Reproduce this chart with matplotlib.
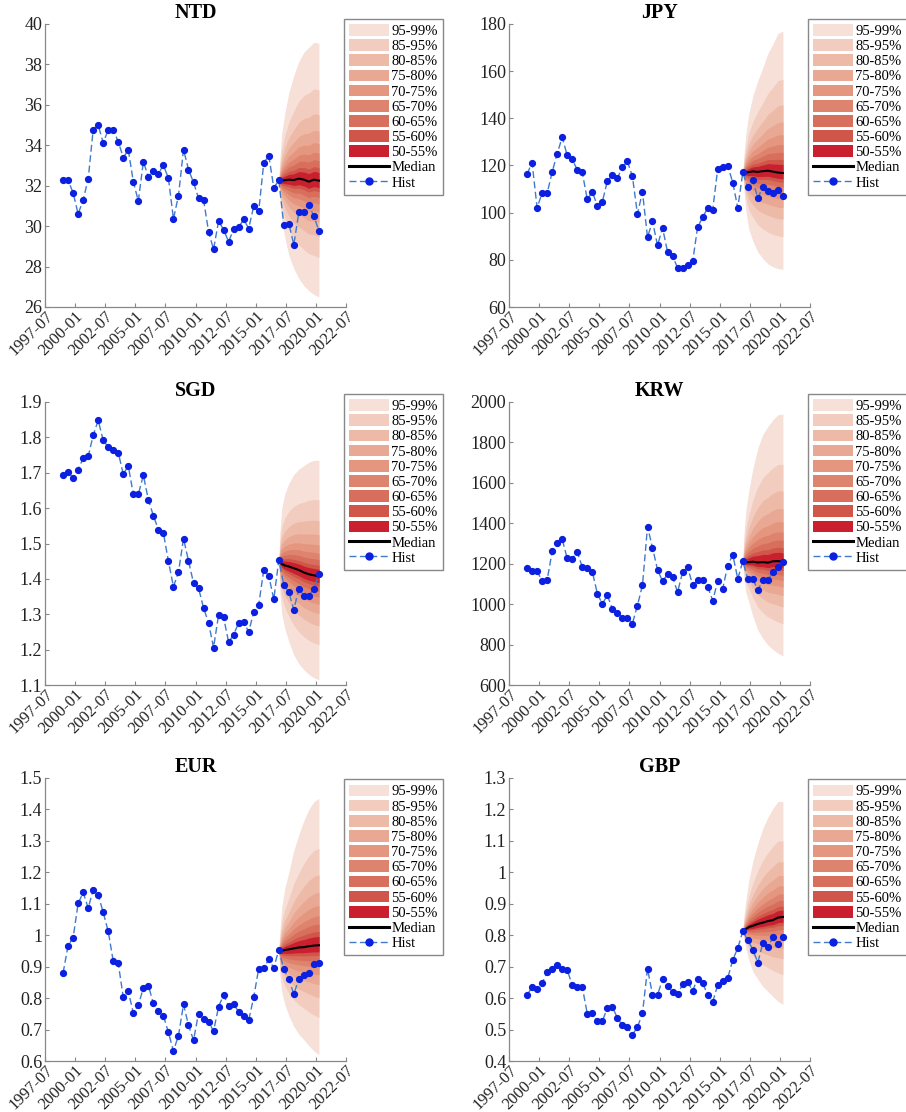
import numpy as np
import pandas as pd
import matplotlib
matplotlib.use('Agg')
import matplotlib.pyplot as plt
import matplotlib.dates as mdates
from matplotlib.patches import Patch
from matplotlib.lines import Line2D
from matplotlib.ticker import FormatStrFormatter, MultipleLocator

plt.rcParams['font.family'] = ['Liberation Serif', 'DejaVu Serif']

# observed rates, one point every 5 months from 1999-01 to 2020-04
hist_dates = pd.date_range('1999-01-01', periods=52, freq='5MS')

ntd_hist = [32.27, 32.27, 31.65, 30.60, 31.30, 32.34, 34.76, 34.99, 34.13, 34.76,
            34.76, 34.18, 33.39, 33.77, 32.19, 31.24, 33.18, 32.44, 32.75, 32.59,
            33.02, 32.37, 30.36, 31.50, 33.79, 32.80, 32.16, 31.38, 31.30, 29.72,
            28.85, 30.26, 29.82, 29.23, 29.85, 29.95, 30.33, 29.88, 30.99, 30.74,
            33.13, 33.49, 31.90, 32.26, 30.07, 30.13, 29.08, 30.69, 30.69, 31.05,
            30.48, 29.77]
jpy_hist = [116.4, 121.2, 102.0, 108.5, 108.3, 117.3, 125.0, 132.0, 124.3, 122.6,
            118.2, 117.1, 105.6, 108.8, 103.0, 104.6, 113.4, 116.0, 114.7, 119.2,
            121.8, 115.4, 99.4, 108.8, 89.6, 96.3, 86.1, 93.6, 83.3, 81.6,
            76.6, 76.6, 77.9, 79.3, 93.9, 98.0, 102.0, 101.1, 118.7, 119.5,
            119.9, 112.7, 102.0, 117.1, 110.7, 113.7, 106.1, 111.0, 109.0, 108.2,
            109.5, 107.1]
sgd_hist = [1.693, 1.703, 1.684, 1.709, 1.741, 1.746, 1.806, 1.848, 1.792, 1.772,
            1.765, 1.757, 1.696, 1.719, 1.639, 1.639, 1.693, 1.623, 1.579, 1.539,
            1.530, 1.450, 1.378, 1.419, 1.514, 1.451, 1.388, 1.374, 1.318, 1.275,
            1.206, 1.298, 1.291, 1.221, 1.242, 1.276, 1.278, 1.250, 1.306, 1.327,
            1.425, 1.409, 1.342, 1.453, 1.383, 1.363, 1.313, 1.372, 1.353, 1.353,
            1.372, 1.414]
krw_hist = [1180, 1163, 1163, 1115, 1120, 1262, 1303, 1321, 1227, 1224,
            1259, 1184, 1178, 1161, 1052, 1001, 1044, 975, 958, 932,
            932, 904, 993, 1094, 1383, 1279, 1170, 1113, 1148, 1135,
            1059, 1158, 1183, 1095, 1117, 1117, 1085, 1018, 1113, 1077,
            1191, 1244, 1125, 1212, 1125, 1125, 1069, 1118, 1118, 1161,
            1186, 1209]
eur_hist = [0.880, 0.967, 0.992, 1.101, 1.136, 1.086, 1.145, 1.128, 1.073, 1.012,
            0.918, 0.911, 0.802, 0.822, 0.752, 0.778, 0.832, 0.840, 0.783, 0.760,
            0.744, 0.691, 0.632, 0.681, 0.780, 0.714, 0.666, 0.751, 0.733, 0.724,
            0.695, 0.773, 0.810, 0.774, 0.780, 0.757, 0.742, 0.730, 0.803, 0.894,
            0.896, 0.923, 0.896, 0.954, 0.892, 0.861, 0.812, 0.862, 0.872, 0.881,
            0.909, 0.911]
gbp_hist = [0.609, 0.636, 0.628, 0.648, 0.682, 0.694, 0.705, 0.691, 0.690, 0.641,
            0.634, 0.636, 0.550, 0.553, 0.526, 0.526, 0.569, 0.572, 0.537, 0.513,
            0.507, 0.484, 0.507, 0.552, 0.694, 0.611, 0.610, 0.660, 0.640, 0.618,
            0.612, 0.644, 0.652, 0.623, 0.662, 0.648, 0.610, 0.588, 0.642, 0.654,
            0.664, 0.722, 0.759, 0.813, 0.784, 0.754, 0.713, 0.775, 0.763, 0.793,
            0.772, 0.793]

# forecast fan: months ahead of 2016-12, median and 1%/99% bounds
fan_steps = [0, 1, 3, 6, 10, 15, 20, 25, 30, 35, 40]
fan_dates = [pd.Timestamp('2016-12-01') + pd.DateOffset(months=m) for m in fan_steps]

ntd_med = [32.26, 32.20, 32.25, 32.27, 32.30, 32.28, 32.35, 32.30, 32.20, 32.30, 32.25]
ntd_hi = [32.26, 33.30, 34.60, 35.60, 36.60, 37.45, 38.15, 38.60, 38.85, 39.10, 39.05]
ntd_lo = [32.26, 31.30, 30.20, 29.45, 28.55, 27.90, 27.40, 27.05, 26.80, 26.62, 26.50]

jpy_med = [117.1, 116.8, 117.0, 117.2, 117.5, 117.3, 117.6, 117.8, 117.4, 117.0, 116.8]
jpy_hi = [117.1, 124.0, 133.0, 142.0, 149.5, 156.0, 161.5, 167.5, 171.5, 176.0, 177.0]
jpy_lo = [117.1, 110.0, 101.0, 93.0, 88.0, 83.3, 80.5, 78.3, 77.1, 76.3, 76.0]

sgd_med = [1.453, 1.446, 1.442, 1.438, 1.435, 1.430, 1.425, 1.418, 1.413, 1.410, 1.407]
sgd_hi = [1.453, 1.530, 1.600, 1.640, 1.670, 1.695, 1.710, 1.720, 1.730, 1.735, 1.735]
sgd_lo = [1.453, 1.360, 1.300, 1.260, 1.222, 1.185, 1.160, 1.143, 1.130, 1.120, 1.115]

krw_med = [1212, 1205, 1207, 1208, 1210, 1206, 1208, 1205, 1212, 1213, 1210]
krw_hi = [1212, 1340, 1460, 1560, 1670, 1772, 1840, 1879, 1912, 1937, 1940]
krw_lo = [1212, 1130, 1060, 1010, 940, 872, 830, 798, 776, 757, 745]

eur_med = [0.954, 0.948, 0.950, 0.953, 0.955, 0.958, 0.961, 0.962, 0.965, 0.967, 0.968]
eur_hi = [0.954, 1.010, 1.090, 1.150, 1.200, 1.270, 1.320, 1.365, 1.400, 1.425, 1.435]
eur_lo = [0.954, 0.870, 0.820, 0.780, 0.744, 0.710, 0.685, 0.668, 0.648, 0.632, 0.620]

gbp_med = [0.813, 0.816, 0.820, 0.826, 0.830, 0.836, 0.840, 0.845, 0.848, 0.856, 0.858]
gbp_hi = [0.813, 0.860, 0.910, 0.975, 1.035, 1.092, 1.140, 1.175, 1.203, 1.225, 1.225]
gbp_lo = [0.813, 0.785, 0.760, 0.720, 0.685, 0.660, 0.637, 0.621, 0.605, 0.590, 0.580]

# fan bands, outermost first; share = outer edge of band as part of the 1-99% spread
band_labels = ['95-99%', '85-95%', '80-85%', '75-80%', '70-75%',
               '65-70%', '60-65%', '55-60%', '50-55%']
band_share = [1.0, 0.66, 0.48, 0.36, 0.27, 0.20, 0.145, 0.095, 0.06]
band_colors = ['#f6e0d8', '#f2cdbf', '#edbaa7', '#e9a893', '#e4967f',
               '#de836e', '#d86f5d', '#d0564a', '#c91f2e']

panels = [
    ('NTD', ntd_hist, ntd_med, ntd_hi, ntd_lo, (26, 40), 2, '%g'),
    ('JPY', jpy_hist, jpy_med, jpy_hi, jpy_lo, (60, 180), 20, '%g'),
    ('SGD', sgd_hist, sgd_med, sgd_hi, sgd_lo, (1.1, 1.9), 0.1, '%.1f'),
    ('KRW', krw_hist, krw_med, krw_hi, krw_lo, (600, 2000), 200, '%g'),
    ('EUR', eur_hist, eur_med, eur_hi, eur_lo, (0.6, 1.5), 0.1, '%g'),
    ('GBP', gbp_hist, gbp_med, gbp_hi, gbp_lo, (0.4, 1.3), 0.1, '%g'),
]

W, H = 906, 1112
fig = plt.figure(figsize=(W / 100, H / 100), dpi=100)

col_left = [45, 509]
row_top = [24, 402, 778]
ax_w, ax_h = 301, 283
leg_y = [1.018, 1.028, 0.995]

xticks = [pd.Timestamp(y, m, 1) for y, m in
          [(1997, 7), (2000, 1), (2002, 7), (2005, 1), (2007, 7), (2010, 1),
           (2012, 7), (2015, 1), (2017, 7), (2020, 1), (2022, 7)]]

for i, (name, hist, med, hi, lo, ylim, ystep, fmt) in enumerate(panels):
    r, c = divmod(i, 2)
    ax = fig.add_axes([col_left[c] / W, 1 - (row_top[r] + ax_h) / H, ax_w / W, ax_h / H])

    med = np.array(med)
    hi = np.array(hi)
    lo = np.array(lo)
    handles = []
    for lab, share, col in zip(band_labels, band_share, band_colors):
        ax.fill_between(fan_dates, med - share * (med - lo), med + share * (hi - med),
                        color=col, lw=0)
        handles.append(Patch(facecolor=col, edgecolor='none', label=lab))

    ax.plot(fan_dates, med, color='black', lw=1.5)
    ax.plot(hist_dates, hist, ls='--', color='#3f7acb', lw=1.0, dashes=(5, 2.5),
            marker='o', markersize=4.2, markerfacecolor='#0b20e0',
            markeredgecolor='#0b20e0')
    handles.append(Line2D([], [], color='black', lw=2.2, label='Median'))
    handles.append(Line2D([], [], ls='--', color='#3f7acb', lw=1.0, dashes=(5, 2.5),
                          marker='o', markersize=5, markerfacecolor='#0b20e0',
                          markeredgecolor='#0b20e0', label='Hist'))

    ax.set_xlim(xticks[0], xticks[-1])
    ax.set_xticks(xticks)
    ax.xaxis.set_major_formatter(mdates.DateFormatter('%Y-%m'))
    ax.set_ylim(*ylim)
    ax.yaxis.set_major_locator(MultipleLocator(ystep))
    ax.yaxis.set_major_formatter(FormatStrFormatter(fmt))

    for s in ['top', 'right']:
        ax.spines[s].set_visible(False)
    for s in ['left', 'bottom']:
        ax.spines[s].set_color('#888888')
        ax.spines[s].set_linewidth(0.9)
    ax.tick_params(direction='in', length=3, width=0.8, color='#888888',
                   labelcolor='#222222', pad=2)
    ax.tick_params(axis='y', labelsize=13)
    ax.tick_params(axis='x', labelsize=12, pad=1)
    plt.setp(ax.get_xticklabels(), rotation=45, ha='right', rotation_mode='anchor')

    ax.set_title(name, fontsize=14.5, fontweight='bold', pad=4)

    leg = ax.legend(handles=handles, loc='upper left', bbox_to_anchor=(0.993, leg_y[r]),
                    borderaxespad=0, fontsize=10.5, handlelength=2.75, handleheight=0.85,
                    handletextpad=0.15, labelspacing=0.09, borderpad=0.35,
                    fancybox=False, framealpha=1)
    leg.get_frame().set_edgecolor('#888888')
    leg.get_frame().set_linewidth(1.0)

fig.savefig('out.png', dpi=100)
